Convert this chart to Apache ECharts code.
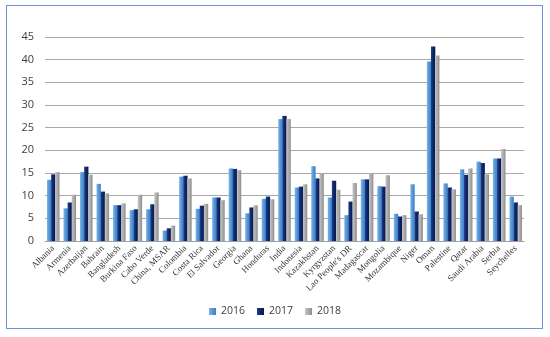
<!DOCTYPE html>
<html><head><meta charset="utf-8">
<script src="https://cdn.jsdelivr.net/npm/echarts@6/dist/echarts.min.js"></script>
<style>html,body{margin:0;padding:0;background:#fff}#frame{position:absolute;left:6px;top:5px;width:537px;height:324px;border:1px solid #6f94dc;box-sizing:border-box}#c{width:550px;height:337px;position:absolute;left:0;top:0}</style>
</head><body><div id="frame"></div><div id="c"></div>
<script>
const categories = ["Albania","Armenia","Azerbaijan","Bahrain","Bangladesh","Burkina Faso","Cabo Verde","China, MSAR","Colombia","Costa Rica","El Salvador","Georgia","Ghana","Honduras","India","Indonesia","Kazakhstan","Kyrgyzstan","Lao People's DR","Madagascar","Mongolia","Mozambique","Niger","Oman","Palestine","Qatar","Saudi Arabia","Serbia","Seychelles"];
const v2016 = [13.5,7.2,15.2,12.6,7.9,6.8,7.0,2.3,14.2,7.1,9.6,16.0,6.1,9.3,26.9,11.8,16.5,9.6,5.7,13.6,12.1,6.0,12.5,39.6,12.7,15.8,17.5,18.2,9.8];
const v2017 = [14.7,8.5,16.4,10.9,7.9,7.0,8.1,2.8,14.4,7.8,9.6,15.9,7.4,9.8,27.6,12.0,13.8,13.3,8.7,13.6,12.0,5.4,6.5,42.9,11.8,14.6,17.2,18.2,8.5];
const v2018 = [15.2,10.2,14.6,10.5,8.3,10.2,10.7,3.4,13.8,8.2,9.0,15.6,7.9,9.2,26.9,12.5,14.8,11.3,12.8,15.0,14.5,5.7,5.9,40.9,11.4,16.0,14.7,20.3,7.9];
const seriesNames = ["2016","2017","2018"];
const yTicks = {min:0,max:45,interval:5};

function grad(a,b,c){return new echarts.graphic.LinearGradient(0,0,1,0,[{offset:0,color:a},{offset:0.55,color:b},{offset:1,color:c}]);}
const colors = [grad('#7fb4e6','#4f95d6','#3d7fc0'), grad('#1f3f8f','#0b2466','#081a4c'), grad('#c4c4c4','#a9a9a9','#8c8c8c')];
const data = [v2016,v2017,v2018];

const chart = echarts.init(document.getElementById('c'));
chart.setOption({
  animation:false,
  legend:{bottom:15,left:'center',itemWidth:7,itemHeight:7,itemGap:12,icon:'rect',
    textStyle:{fontFamily:'Open Sans',fontSize:10.5,color:'#404040'},data:seriesNames},
  grid:{left:45,right:26,top:37,bottom:96},
  xAxis:{type:'category',data:categories,
    axisLine:{lineStyle:{color:'#a0a0a0'}},axisTick:{show:false},
    axisLabel:{rotate:45,interval:0,fontFamily:'Liberation Serif',fontSize:9,color:'#333',margin:6}},
  yAxis:{type:'value',min:yTicks.min,max:yTicks.max,interval:yTicks.interval,
    axisLine:{show:false},axisTick:{show:false},
    splitLine:{lineStyle:{color:'#a8a8a8',width:1.2}},
    axisLabel:{fontFamily:'Open Sans',fontSize:11,color:'#404040',margin:11}},
  series:seriesNames.map((n,i)=>({name:n,type:'bar',data:data[i],
    barGap:'-5%',barCategoryGap:'24%',
    itemStyle:{color:colors[i]},
    emphasis:{disabled:true}})),
});
</script></body></html>
